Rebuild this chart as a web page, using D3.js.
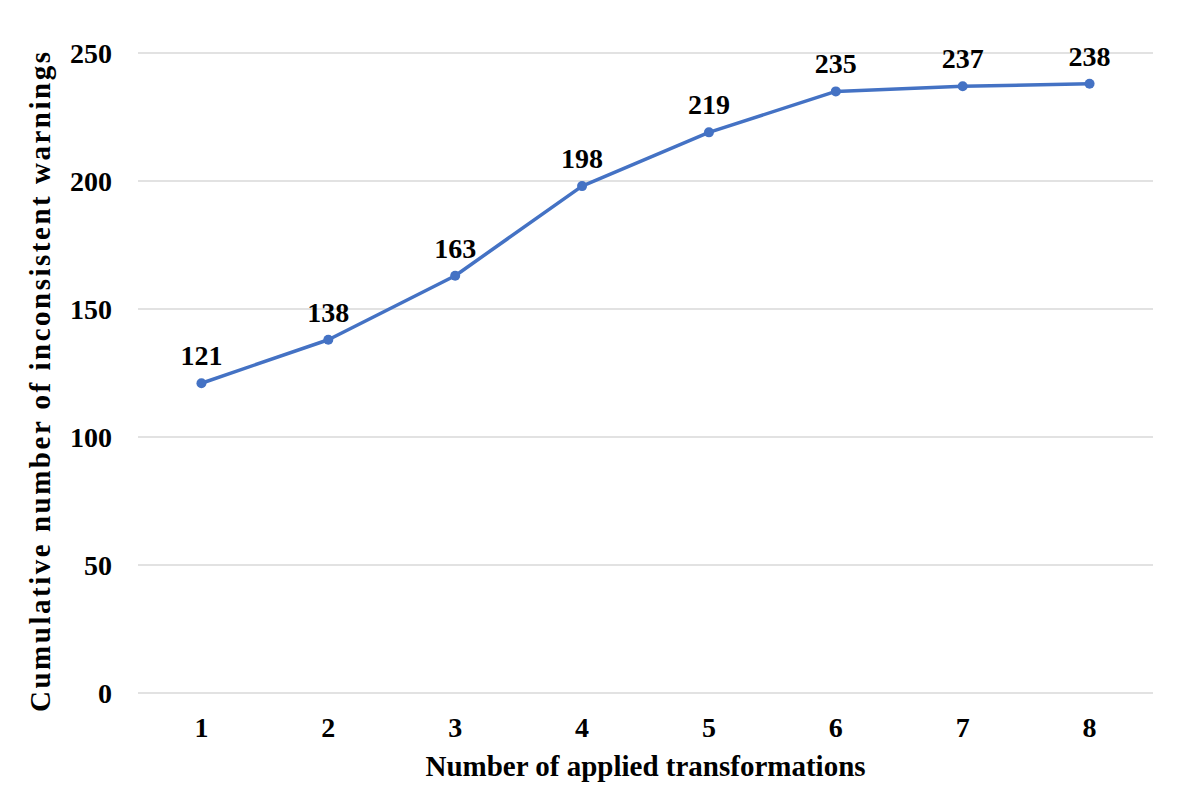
<!DOCTYPE html>
<html>
<head>
<meta charset="utf-8">
<script src="https://cdn.jsdelivr.net/npm/d3@7"></script>
<style>
  body { margin: 0; background: #fff; }
  svg text { font-family: 'Liberation Serif', 'DejaVu Serif', serif !important; font-weight: bold; fill: #000; }
</style>
</head>
<body>
<script>
// data
const transformations = ["1", "2", "3", "4", "5", "6", "7", "8"];
const warnings = [121, 138, 163, 198, 219, 235, 237, 238];
const yTicks = [0, 50, 100, 150, 200, 250];

const w = 1183;
const h = 792;
const margin = { top: 53, right: 30, bottom: 99, left: 138 };
const innerWidth = w - margin.left - margin.right;
const innerHeight = h - margin.top - margin.bottom;
const serif = "'Liberation Serif', 'DejaVu Serif', serif";

const svg = d3.select("body").append("svg")
    .attr("width", w)
    .attr("height", h)
    .attr("font-family", serif);

const g = svg.append("g")
    .attr("transform", `translate(${margin.left},${margin.top})`);

const xScale = d3.scaleBand()
    .domain(transformations)
    .range([0, innerWidth]);

const yScale = d3.scaleLinear()
    .domain([0, 250])
    .range([innerHeight, 0]);

// gridlines
g.selectAll(".grid")
    .data(yTicks)
    .enter()
    .append("line")
    .attr("x1", 0)
    .attr("x2", innerWidth)
    .attr("y1", d => yScale(d))
    .attr("y2", d => yScale(d))
    .attr("stroke", "#d9d9d9")
    .attr("stroke-width", 1.3);

const yAxis = d3.axisLeft(yScale).tickValues(yTicks).tickSize(0).tickPadding(26);
const yAxisG = g.append("g").call(yAxis).attr("font-family", serif);
yAxisG.select(".domain").remove();
yAxisG.selectAll("text").style("font-size", "28px").attr("dy", "0.35em");

const xAxis = d3.axisBottom(xScale).tickSize(0).tickPadding(24);
const xAxisG = g.append("g")
    .attr("transform", `translate(0,${innerHeight})`)
    .call(xAxis)
    .attr("font-family", serif);
xAxisG.select(".domain").remove();
xAxisG.selectAll("text").style("font-size", "28px");

const cx = d => xScale(d) + xScale.bandwidth() / 2;

const line = d3.line()
    .x((d, i) => cx(transformations[i]))
    .y(d => yScale(d));

g.append("path")
    .datum(warnings)
    .attr("d", line)
    .attr("fill", "none")
    .attr("stroke", "#4472c4")
    .attr("stroke-width", 3.5)
    .attr("stroke-linejoin", "round");

g.selectAll("circle")
    .data(warnings)
    .enter()
    .append("circle")
    .attr("cx", (d, i) => cx(transformations[i]))
    .attr("cy", d => yScale(d))
    .attr("r", 5)
    .attr("fill", "#4472c4");

g.selectAll(".label")
    .data(warnings)
    .enter()
    .append("text")
    .attr("x", (d, i) => cx(transformations[i]))
    .attr("y", d => yScale(d) - 18)
    .attr("text-anchor", "middle")
    .style("font-size", "28px")
    .text(d => d);

svg.append("text")
    .attr("x", margin.left + innerWidth / 2)
    .attr("y", 776)
    .attr("text-anchor", "middle")
    .style("font-size", "29px")
    .text("Number of applied transformations");

svg.append("text")
    .attr("transform", "translate(50,382) rotate(-90)")
    .attr("text-anchor", "middle")
    .attr("textLength", 660)
    .attr("lengthAdjust", "spacing")
    .style("font-size", "29px")
    .text("Cumulative number of inconsistent  warnings");
</script>
</body>
</html>
